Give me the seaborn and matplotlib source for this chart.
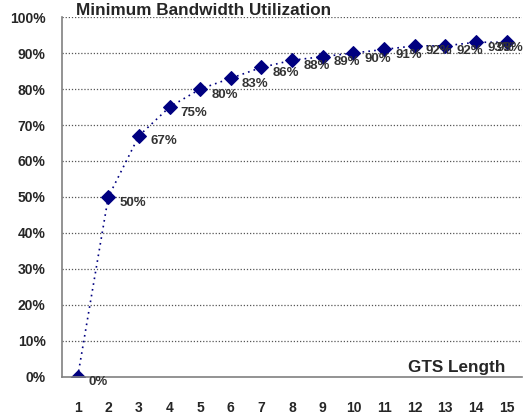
import numpy as np
import pandas as pd
import matplotlib.pyplot as plt
import seaborn as sns
from matplotlib.ticker import FixedLocator, PercentFormatter

# data
gts_length = list(range(1, 16))
utilization = [0, 50, 67, 75, 80, 83, 86, 88, 89, 90, 91, 92, 92, 93, 93]
value_labels = ["0%", "50%", "67%", "75%", "80%", "83%", "86%", "88%", "89%",
                "90%", "91%", "92%", "92%", "93%", "93%"]

df = pd.DataFrame({"gts": gts_length, "util": utilization})

sns.set_style("white")
plt.rcParams['font.family'] = ['Liberation Sans', 'DejaVu Sans']

fig = plt.figure(figsize=(5.24, 4.16), dpi=100)
ax = fig.add_axes([0.119, 0.094, 0.877, 0.865])

sns.lineplot(data=df, x="gts", y="util", ax=ax, color="#000080",
             linestyle=(0, (1, 2.5)), linewidth=1.2,
             marker="D", markersize=7.5, markeredgecolor="#000080")

for i, (x, y, s) in enumerate(zip(gts_length, utilization, value_labels)):
    dx = 8 if i < len(gts_length) - 1 else -7
    ax.annotate(s, (x, y), xytext=(dx, -4), textcoords="offset points",
                ha="left", va="center", fontsize=9.5, fontweight="bold",
                color="#333333", annotation_clip=False)

ax.set_xlim(0.5, 15.5)
ax.set_ylim(0, 100)
ax.set_xticks(gts_length)
ax.xaxis.set_minor_locator(FixedLocator(np.arange(0.5, 16, 1)))
ax.tick_params(axis="x", which="major", length=0, pad=17, labelsize=10)
ax.tick_params(axis="x", which="minor", length=4, color="#808080", direction="out")
ax.set_yticks(range(0, 101, 10))
ax.yaxis.set_major_formatter(PercentFormatter(decimals=0))
ax.tick_params(axis="y", length=4, color="#808080", direction="out", pad=8, labelsize=10)
for lbl in ax.get_xticklabels() + ax.get_yticklabels():
    lbl.set_fontweight("bold")

ax.grid(False)
for v in range(10, 101, 10):
    ax.axhline(v, color="#555555", linestyle=(0, (1, 1.5)), linewidth=0.9, zorder=0)

for side in ["top", "right"]:
    ax.spines[side].set_visible(False)
ax.spines["left"].set_color("#808080")
ax.spines["bottom"].set_color("#808080")
ax.spines["left"].set_linewidth(1.2)
ax.spines["bottom"].set_linewidth(1.2)

ax.set_xlabel("")
ax.set_ylabel("")
ax.text(0.308, 1.006, "Minimum Bandwidth Utilization", transform=ax.transAxes,
        ha="center", va="baseline", fontsize=12.3, fontweight="bold")
ax.text(0.963, 0.014, "GTS Length", transform=ax.transAxes,
        ha="right", va="baseline", fontsize=12.3, fontweight="bold")

fig.savefig("out.png", dpi=100)
